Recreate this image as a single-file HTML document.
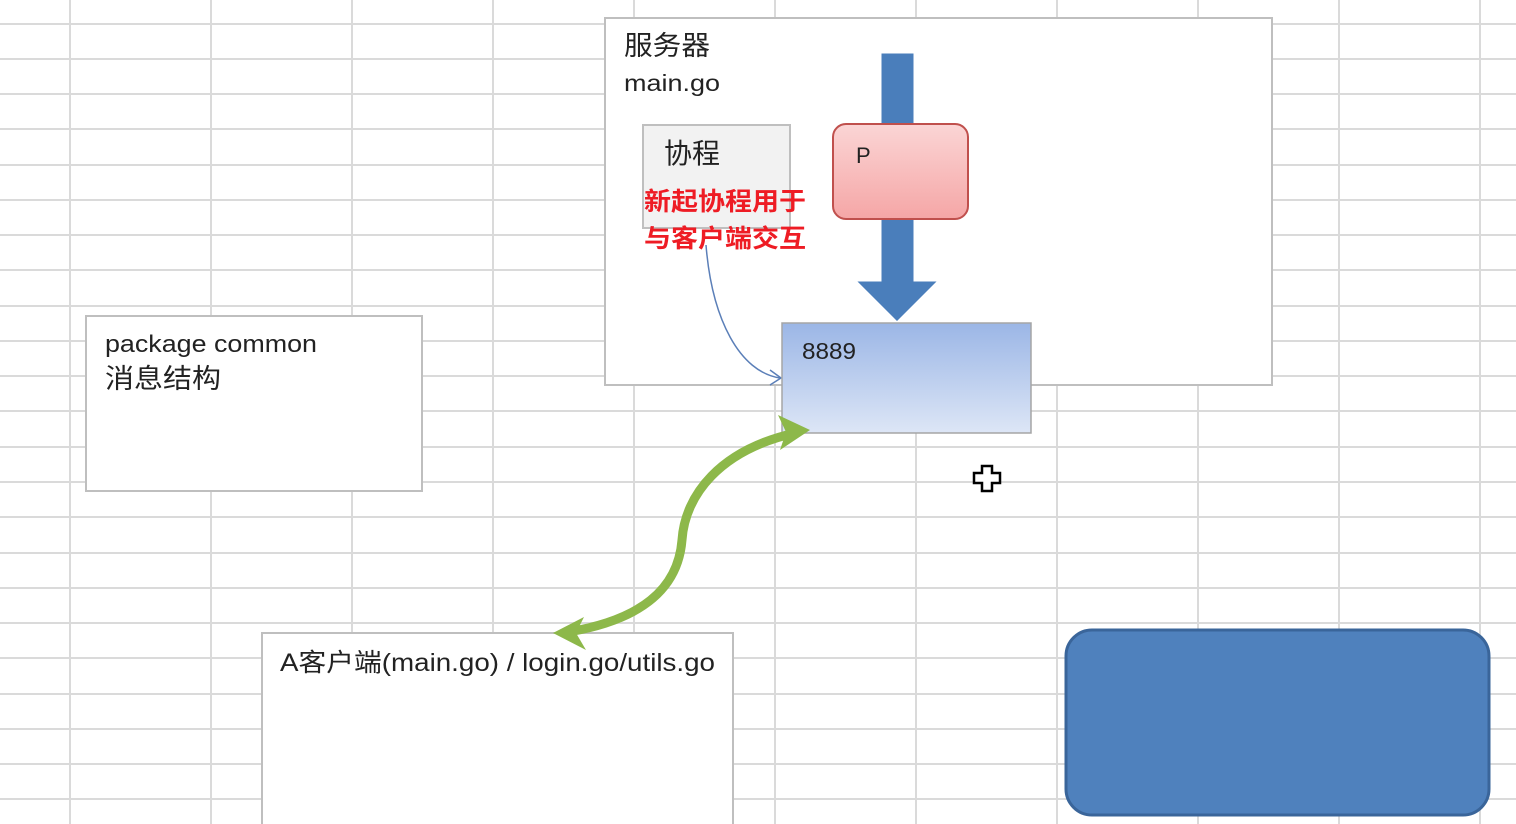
<!DOCTYPE html>
<html><head><meta charset="utf-8"><style>
body{margin:0;background:#fff;}
svg{display:block;}
text{font-family:"Liberation Sans","Noto Sans CJK SC",sans-serif;}
</style></head><body>
<svg width="1516" height="824" viewBox="0 0 1516 824" xmlns="http://www.w3.org/2000/svg">
<defs>
<linearGradient id="pg" x1="0" y1="0" x2="0" y2="1"><stop offset="0" stop-color="#fbd5d5"/><stop offset="1" stop-color="#f5a6a6"/></linearGradient>
<linearGradient id="bg" x1="0" y1="0" x2="0" y2="1"><stop offset="0" stop-color="#9bb6e6"/><stop offset="1" stop-color="#dde6f6"/></linearGradient>
</defs>
<g stroke="#dadada" stroke-width="2">
<line x1="70" y1="0" x2="70" y2="824"/><line x1="211" y1="0" x2="211" y2="824"/><line x1="352" y1="0" x2="352" y2="824"/><line x1="493" y1="0" x2="493" y2="824"/><line x1="634" y1="0" x2="634" y2="824"/><line x1="775" y1="0" x2="775" y2="824"/><line x1="916" y1="0" x2="916" y2="824"/><line x1="1057" y1="0" x2="1057" y2="824"/><line x1="1198" y1="0" x2="1198" y2="824"/><line x1="1339" y1="0" x2="1339" y2="824"/><line x1="1480" y1="0" x2="1480" y2="824"/>
<line x1="0" y1="24" x2="1516" y2="24"/><line x1="0" y1="59" x2="1516" y2="59"/><line x1="0" y1="94" x2="1516" y2="94"/><line x1="0" y1="129" x2="1516" y2="129"/><line x1="0" y1="165" x2="1516" y2="165"/><line x1="0" y1="200" x2="1516" y2="200"/><line x1="0" y1="235" x2="1516" y2="235"/><line x1="0" y1="270" x2="1516" y2="270"/><line x1="0" y1="306" x2="1516" y2="306"/><line x1="0" y1="341" x2="1516" y2="341"/><line x1="0" y1="376" x2="1516" y2="376"/><line x1="0" y1="411" x2="1516" y2="411"/><line x1="0" y1="447" x2="1516" y2="447"/><line x1="0" y1="482" x2="1516" y2="482"/><line x1="0" y1="517" x2="1516" y2="517"/><line x1="0" y1="553" x2="1516" y2="553"/><line x1="0" y1="588" x2="1516" y2="588"/><line x1="0" y1="623" x2="1516" y2="623"/><line x1="0" y1="658" x2="1516" y2="658"/><line x1="0" y1="694" x2="1516" y2="694"/><line x1="0" y1="729" x2="1516" y2="729"/><line x1="0" y1="764" x2="1516" y2="764"/><line x1="0" y1="799" x2="1516" y2="799"/>
</g>
<rect x="605" y="18" width="667" height="367" fill="#fff" stroke="#bfbfbf" stroke-width="2"/>
<text x="624" y="55" font-size="27" fill="#222" textLength="86" lengthAdjust="spacingAndGlyphs">服务器</text>
<text x="624" y="91" font-size="23" fill="#222" textLength="96" lengthAdjust="spacingAndGlyphs">main.go</text>
<rect x="643" y="125" width="147" height="103" fill="#f2f2f2" stroke="#bfbfbf" stroke-width="2"/>
<text x="664" y="163" font-size="28" fill="#222">协程</text>
<text x="644" y="210" font-size="25" font-weight="bold" fill="#ee1c24" textLength="162" lengthAdjust="spacingAndGlyphs">新起协程用于</text>
<text x="644" y="247" font-size="25" font-weight="bold" fill="#ee1c24" textLength="162" lengthAdjust="spacingAndGlyphs">与客户端交互</text>
<path d="M706 245 C 712 320 740 372 780 378" fill="none" stroke="#5b7fb8" stroke-width="1.5"/>
<path d="M770 370 L781 378 L770 385" fill="none" stroke="#5b7fb8" stroke-width="1.5"/>
<path d="M878 50 H917 V278 H945 L897 326 L849 278 H878 Z" fill="#4a7ebb" stroke="#fff" stroke-width="7" stroke-linejoin="miter"/>
<rect x="833" y="124" width="135" height="95" rx="13" fill="url(#pg)" stroke="#c0504d" stroke-width="2"/>
<text x="856" y="163" font-size="22" fill="#222">P</text>
<rect x="782" y="323" width="249" height="110" fill="url(#bg)" stroke="#a5a5a5" stroke-width="1.5"/>
<text x="802" y="359" font-size="23" fill="#222" textLength="54" lengthAdjust="spacingAndGlyphs">8889</text>
<rect x="86" y="316" width="336" height="175" fill="#fff" stroke="#bfbfbf" stroke-width="2"/>
<text x="105" y="352" font-size="24" fill="#222" textLength="212" lengthAdjust="spacingAndGlyphs">package  common</text>
<text x="105" y="388" font-size="27" fill="#222" textLength="116" lengthAdjust="spacingAndGlyphs">消息结构</text>
<rect x="262" y="633" width="471" height="200" fill="#fff" stroke="#bfbfbf" stroke-width="2"/>
<text x="280" y="671" font-size="25" fill="#222" textLength="435" lengthAdjust="spacingAndGlyphs">A客户端(main.go) / login.go/utils.go</text>
<path d="M795 433 C 720 450 685 495 682 540 C 678 590 640 620 568 632" fill="none" stroke="#8db84a" stroke-width="9"/>
<path d="M810 430 L778 415 L786 432 L780 450 Z" fill="#8db84a"/>
<path d="M553 633 L584 617 L576 633 L586 650 Z" fill="#8db84a"/>
<rect x="1066" y="630" width="423" height="185" rx="26" fill="#4f81bd" stroke="#3a659a" stroke-width="3"/>
<path d="M982 466 h10 v7 h8 v10 h-8 v8 h-10 v-8 h-8 v-10 h8 Z" fill="#fff" stroke="#000" stroke-width="2.5"/>
</svg>
</body></html>
